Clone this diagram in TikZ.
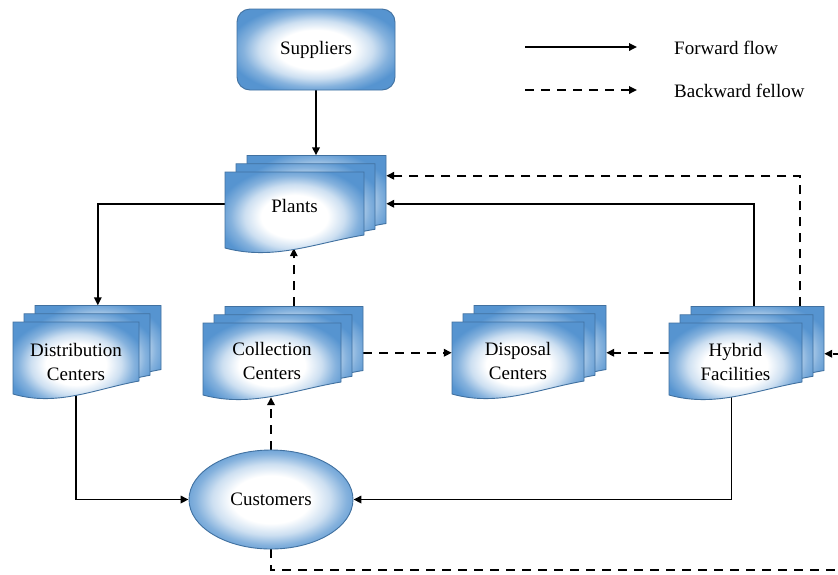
\documentclass[tikz,border=0pt]{standalone}
\usepackage{fontspec}
\setmainfont{Liberation Serif}
\usetikzlibrary{arrows.meta,shapes.geometric,calc}
\definecolor{docblue}{RGB}{86,148,208}
\definecolor{docborder}{RGB}{65,113,160}
\pgfdeclareradialshading{docsh}{\pgfpoint{0bp}{0bp}}{color(0bp)=(white); color(12bp)=(white); color(18bp)=(docblue!30); color(23bp)=(docblue!72); color(28bp)=(docblue); color(50bp)=(docblue)}
\pgfdeclarelayer{bg}
\pgfsetlayers{bg,main}
\tikzset{
  pagestyle/.style={draw=docborder, line width=0.9pt, shading=docsh},
  grpbox/.style={rectangle, inner sep=0pt, draw=none},
  lbl/.style={align=center, inner sep=0pt, font=\fontsize{19}{24}\selectfont},
  fwd/.style={line width=1.7pt, -{Triangle[length=8pt,width=7.5pt]}},
  bwd/.style={line width=1.7pt, dash pattern=on 9pt off 7pt, -{Triangle[length=8pt,width=7.5pt]}},
}
\newcommand\docpage[4]{%
  \path[pagestyle] ({#1},{#2}) -- ({#1+#3},{#2}) -- ({#1+#3},{#2+#4})
    .. controls ({#1+0.65*#3},{#2+#4+8}) and ({#1+0.35*#3},{#2+#4+26}) .. ({#1},{#2+#4+13}) -- cycle;}
\newcommand\multidoc[7]{%
  \docpage{#2+22}{#3-16.5}{#4}{#5+5}
  \docpage{#2+11}{#3-8.25}{#4}{#5+2.5}
  \docpage{#2}{#3}{#4}{#5}
  \node[grpbox, minimum width={(#4+22)*1pt}, minimum height={(#5+29.5)*1pt}] (#1) at ({#2+(#4+22)/2},{#3-16.5+(#5+29.5)/2}) {};
  \node[lbl] (#1-t) at ({#2+#4/2},{#6}) {#7};}
\begin{document}
\begin{tikzpicture}[x=1pt,y=-1pt]
\useasboundingbox (0,0) rectangle (838,574);
% nodes
\node[rectangle, rounded corners=13pt, draw=docborder, line width=0.9pt, shading=docsh,
      minimum width=158pt, minimum height=81pt, font=\fontsize{19}{24}\selectfont] (sup) at (316,49.5) {Suppliers};
\multidoc{plants}{225}{172}{139}{63}{206}{Plants}
\multidoc{dist}{13}{322}{126}{59}{362}{Distribution\\Centers}
\multidoc{coll}{203}{323}{138}{59}{361}{Collection\\Centers}
\multidoc{disp}{452}{322}{132}{59}{361}{Disposal\\Centers}
\multidoc{hyb}{669}{323}{133}{59}{362}{Hybrid\\Facilities}
\node[ellipse, draw=docborder, line width=0.9pt, shading=docsh, inner sep=0pt,
      minimum width=164pt, minimum height=99pt, font=\fontsize{19}{24}\selectfont] (cust) at (271,499.5) {Customers};
% legend
\coordinate (l1a) at (525,47);
\coordinate (l1b) at (637,47);
\coordinate (l2a) at (525,90);
\coordinate (l2b) at (637,90);
\draw[fwd] (l1a) -- (l1b);
\draw[bwd] (l2a) -- (l2b);
\node[lbl, anchor=west] (l1t) at (674,48) {Forward flow};
\node[lbl, anchor=west] (l2t) at (674,91) {Backward fellow};
% connectors
\coordinate (far) at (870,570);
\begin{pgfonlayer}{bg}
\fill[white] (0,0) rectangle (838,574);
\draw[fwd] (sup) -- (sup |- plants.north);
\draw[fwd] ($(plants.west)+(20,2)$) -| ($(dist.north west)+(85,0)$);
\draw[fwd] (dist-t) |- (cust.west);
\draw[bwd] (cust.north) -- ([yshift=-2pt]cust.north |- coll.south);
\coordinate (ca) at ($(coll.north west)+(91,0)$);
\draw[bwd] (ca) -- (ca |- plants.south);
\draw[bwd] ([yshift=-2pt]coll.east) -- ([yshift=-2pt]coll.east -| disp.west);
\draw[bwd] ([yshift=-2pt]hyb.west) -- ([yshift=-2pt]hyb.west -| disp.east);
\draw[fwd] ($(hyb.north west)+(85,0)$) |- ($(plants.east)+(0,2)$);
\draw[bwd] ($(hyb.north west)+(131,0)$) |- ($(plants.east)+(0,-26)$);
\draw[fwd] ($(hyb-t)+(-4,0)$) |- (cust.east);
\draw[bwd] (cust.south) |- (far) |- ($(hyb.east)+(0,3)$);
\end{pgfonlayer}
\end{tikzpicture}
\end{document}
